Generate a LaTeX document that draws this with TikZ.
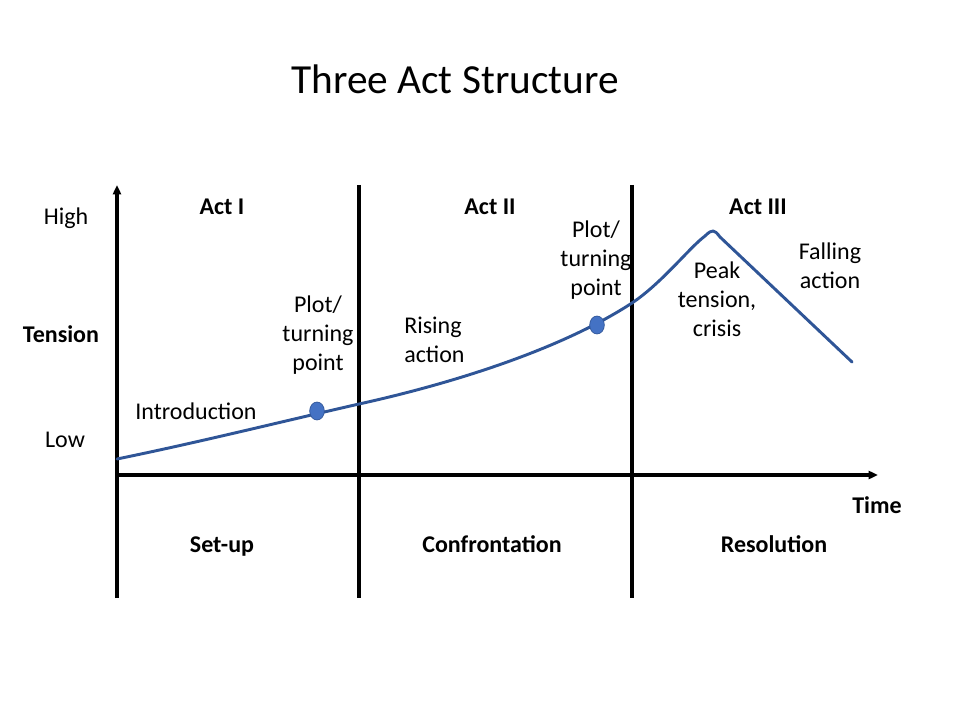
\documentclass[tikz,border=0pt]{standalone}
\usepackage{fontspec}
\setmainfont{Carlito}
\usetikzlibrary{positioning,shapes.geometric,arrows.meta}
\definecolor{plotline}{RGB}{47,85,151}
\definecolor{plotdot}{RGB}{68,114,196}
\tikzset{
  lbl/.style={inner sep=0pt, align=center, font=\fontsize{18}{21.75}\selectfont},
  boldlbl/.style={lbl, font=\fontsize{18}{21.75}\selectfont\bfseries},
  axis/.style={line width=2.6pt, -{Triangle[length=7pt,width=6pt]}},
  divider/.style={line width=2.6pt},
  turn/.style={ellipse, fill=plotdot, draw=plotline, line width=0.5pt,
    minimum width=11pt, minimum height=13.5pt, inner sep=0pt},
}

\begin{document}
\begin{tikzpicture}[x=0.75pt,y=-0.75pt]
  \useasboundingbox[fill=white] (0,0) rectangle (960,720);
  \node (title) at (455,79) {\fontsize{31}{37}\selectfont Three Act Structure};

  % axes and act dividers
  \coordinate (origin) at (117,475);
  \coordinate (ytop) at (117,185);
  \coordinate (ybot) at (117,598);
  \coordinate (xend) at (878,475);
  \coordinate (div1top) at (359,185);
  \coordinate (div1bot) at (359,598);
  \coordinate (div2top) at (632,185);
  \coordinate (div2bot) at (632,598);
  \draw[axis] (ybot) -- (ytop);
  \draw[axis] (origin) -- (xend);
  \draw[divider] (div1top) -- (div1bot);
  \draw[divider] (div2top) -- (div2bot);

  % tension curve
  \coordinate (start) at (117,459);
  \coordinate (peaktop) at (713,231);
  \coordinate (finish) at (852,362);
  \draw[plotline, line width=2.2pt, line cap=round, line join=round]
    (start) .. controls (200,442) and (280,422) .. (359,404)
    .. controls (450,384) and (560,350) .. (632,303)
    .. controls (662,283) and (690,247) .. (705,236)
    .. controls (709,232) and (711,231) .. (peaktop)
    .. controls (715,231) and (717,233) .. (720,237) -- (finish);
  \node[turn] (turn1) at (317,411) {};
  \node[turn] (turn2) at (597,325) {};

  % axis labels
  \node[lbl, anchor=base] (high) at (66,225) {High};
  \node[boldlbl, anchor=base] (tension) at (61,342) {Tension};
  \node[lbl, anchor=base] (low) at (65,447) {Low};
  \node[boldlbl, anchor=base] (time) at (877,513) {Time};

  % acts
  \node[boldlbl, anchor=base] (act1) at (222,215) {Act I};
  \node[boldlbl, anchor=base] (act2) at (490,215) {Act II};
  \node[boldlbl, anchor=base] (act3) at (758,215) {Act III};
  \node[boldlbl, anchor=base] (setup) at (222,552) {Set-up};
  \node[boldlbl, anchor=base] (confront) at (492,552) {Confrontation};
  \node[boldlbl, anchor=base] (resolve) at (774,552) {Resolution};

  % story beats
  \node[lbl, anchor=base] (intro) at (196,419) {Introduction};
  \node[lbl] (plot1) at (318,335) {Plot/\\turning\\point};
  \node[lbl, align=left, anchor=west] (rising) at (404,340) {Rising\\action};
  \node[lbl] (plot2) at (596,260) {Plot/\\turning\\point};
  \node[lbl] (peak) at (717,299) {Peak\\tension,\\crisis};
  \node[lbl] (falling) at (830,266) {Falling\\action};
\end{tikzpicture}
\end{document}
